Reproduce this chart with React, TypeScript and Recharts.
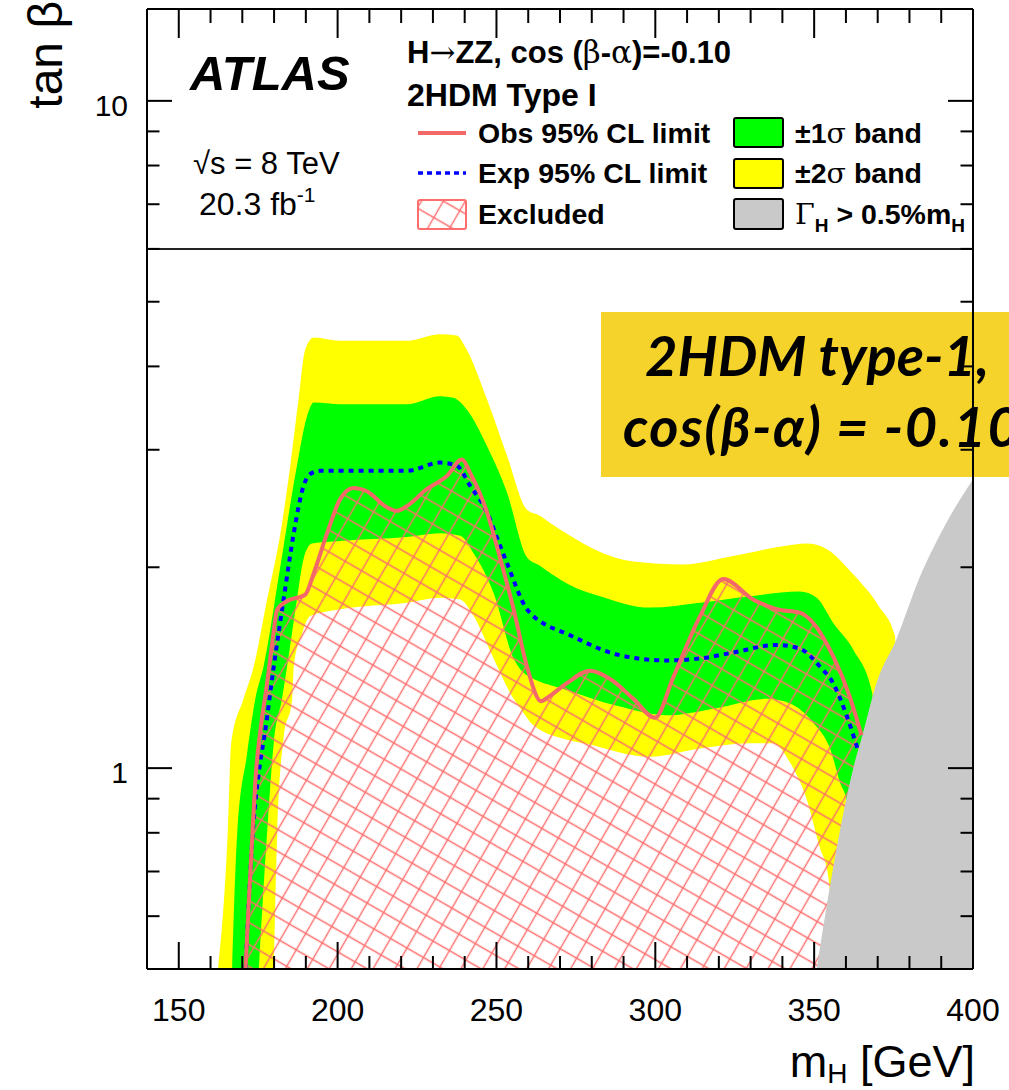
import { ComposedChart, Area, Line, XAxis, YAxis, ReferenceLine } from "recharts";

// [mH (GeV), tan beta] pairs along each contour
const obsLimit: [number, number][] = [
  [171.0, 0.5], [172.2, 0.65], [173.2, 0.8], [174.2, 0.97], [175.8, 1.15], [177.8, 1.34],
  [179.5, 1.55], [181.0, 1.73], [184.1, 1.78], [189.8, 1.82], [192.5, 1.96], [196.7, 2.25],
  [200.8, 2.53], [205.0, 2.63], [209.2, 2.6], [215.5, 2.46], [218.7, 2.43], [221.8, 2.47],
  [228.1, 2.62], [234.4, 2.74], [239.1, 2.9], [241.7, 2.77], [247.0, 2.42], [251.2, 2.06],
  [255.4, 1.73], [259.6, 1.42], [264.0, 1.26], [266.5, 1.28], [272.1, 1.34], [279.5, 1.4],
  [285.8, 1.36], [293.1, 1.27], [299.9, 1.19], [305.7, 1.37], [314.1, 1.69], [321.4, 1.92],
  [330.8, 1.79], [338.2, 1.73], [345.5, 1.71], [349.7, 1.65], [356.0, 1.47], [361.2, 1.28],
  [364.9, 1.12],
];

const expLimit: [number, number][] = [
  [171.0, 0.5], [173.3, 0.8], [175.5, 1.01], [177.0, 1.12], [179.9, 1.42], [183.0, 1.79],
  [186.2, 2.25], [189.3, 2.65], [191.4, 2.76], [194.6, 2.79], [210.0, 2.79], [221.8, 2.79],
  [232.3, 2.87], [237.5, 2.84], [241.7, 2.65], [247.0, 2.42], [251.2, 2.15], [253.3, 2.03],
  [259.6, 1.73], [261.6, 1.69], [263.7, 1.66], [272.1, 1.59], [287.9, 1.48], [303.6, 1.45],
  [314.1, 1.46], [324.5, 1.49], [338.2, 1.53], [345.5, 1.51], [351.8, 1.42], [356.0, 1.34],
  [360.2, 1.2], [363.9, 1.06],
];

const plus1Sigma: [number, number][] = [
  [166.8, 0.5], [168.4, 0.8], [171.5, 1.05], [174.1, 1.27], [176.7, 1.42], [182.0, 2.01],
  [187.2, 2.84], [190.4, 3.37], [192.5, 3.53], [200.8, 3.51], [221.8, 3.51], [232.3, 3.61],
  [236.4, 3.59], [240.6, 3.45], [247.0, 3.04], [253.3, 2.59], [259.6, 2.07], [263.7, 2.01],
  [266.9, 1.96], [273.2, 1.88], [282.6, 1.81], [298.3, 1.74], [314.1, 1.77], [329.8, 1.81],
  [345.5, 1.84], [350.8, 1.8], [356.0, 1.65], [362.5, 1.5], [368.2, 1.3], [372.0, 0.5],
];

const minus1Sigma: [number, number][] = [
  [175.2, 0.5], [177.8, 0.8], [179.9, 1.09], [182.5, 1.27], [184.1, 1.42], [187.2, 1.79],
  [189.3, 2.06], [191.9, 2.17], [200.8, 2.19], [221.8, 2.22], [232.3, 2.25], [238.6, 2.23],
  [242.8, 2.1], [249.1, 1.83], [255.4, 1.46], [258.5, 1.39], [260.6, 1.37], [272.1, 1.31],
  [287.9, 1.24], [303.6, 1.2], [319.3, 1.23], [335.0, 1.27], [342.4, 1.25], [349.7, 1.17],
  [355.0, 1.07], [358.2, 0.95], [360.3, 0.89], [362.0, 0.5],
];

const plus2Sigma: [number, number][] = [
  [162.4, 0.5], [165.4, 0.8], [166.5, 1.09], [170.4, 1.27], [173.6, 1.42], [177.8, 1.79],
  [182.0, 2.25], [185.1, 2.84], [187.7, 3.57], [189.8, 4.24], [192.5, 4.42], [200.8, 4.37],
  [221.8, 4.37], [232.3, 4.47], [237.5, 4.45], [240.6, 4.24], [247.0, 3.57], [253.3, 2.94],
  [259.6, 2.44], [263.7, 2.39], [266.9, 2.33], [273.2, 2.23], [280.6, 2.13], [293.1, 2.04],
  [308.8, 2.02], [324.5, 2.08], [340.2, 2.15], [347.6, 2.17], [353.9, 2.13], [361.9, 1.96],
  [370.3, 1.75], [375.4, 1.58], [377.0, 0.5],
];

const minus2Sigma: [number, number][] = [
  [179.9, 0.5], [181.0, 0.8], [183.0, 1.11], [185.7, 1.27], [186.2, 1.42], [188.8, 1.59],
  [191.4, 1.69], [200.8, 1.73], [221.8, 1.77], [232.3, 1.8], [238.6, 1.79], [242.8, 1.69],
  [249.1, 1.46], [255.4, 1.27], [257.5, 1.23], [261.6, 1.16], [273.2, 1.1], [277.4, 1.09],
  [298.3, 1.04], [314.1, 1.07], [329.8, 1.09], [337.1, 1.09], [342.9, 1.01], [347.6, 0.9],
  [351.8, 0.76], [354.4, 0.69], [356.5, 0.5],
];

// Gamma_H > 0.5% mH boundary
const wideWidth: [number, number][] = [
  [350.8, 0.5], [356.0, 0.71], [362.3, 1.0], [365.4, 1.13], [369.6, 1.34], [375.9, 1.56],
  [383.0, 1.92], [391.6, 2.33], [400.0, 2.71],
];

const massTicks = [150, 160, 170, 180, 190, 200, 210, 220, 230, 240, 250, 260, 270, 280, 290, 300, 310, 320, 330, 340, 350, 360, 370, 380, 390, 400];
const tanbTicks = [0.5, 0.6, 0.7, 0.8, 0.9, 1, 2, 3, 4, 5, 6, 7, 8, 9, 10];
const tanbLabels = [1, 10];

const pts = (pairs: [number, number][]) => pairs.map(([m, v]) => ({ m, v }));

const W = 1009;
const H = 1090;
const PLOT_TOP = 9;
const PLOT_BOTTOM = 969;
const PLOT_LEFT = 147;
const PLOT_RIGHT = 973;
const SANS = "'Liberation Sans', Arial, Helvetica, sans-serif";
const SERIF = "'DejaVu Serif', 'Liberation Serif', serif";
const BOX_FONT = "Lato, 'Open Sans', sans-serif";

const RED = "#f36868";
const HATCH = "#ff6e6e";
const BLUE = "#0000ff";
const GREEN = "#00ff00";
const YELLOW = "#ffff00";
const GREY = "#c9c9c9";

const isMajorMass = (v: number) => v % 50 === 0;

function BottomTick(props: any) {
  const { x, payload } = props;
  const major = isMajorMass(payload.value);
  return (
    <g>
      <line x1={x} x2={x} y1={PLOT_BOTTOM} y2={PLOT_BOTTOM - (major ? 27 : 13)} stroke="#000" strokeWidth={2} />
      {major && (
        <text x={x} y={PLOT_BOTTOM + 52} textAnchor="middle" fontFamily={SANS} fontSize={32} fill="#000">
          {payload.value}
        </text>
      )}
    </g>
  );
}

function TopTick(props: any) {
  const { x, payload } = props;
  const major = isMajorMass(payload.value);
  return <line x1={x} x2={x} y1={PLOT_TOP} y2={PLOT_TOP + (major ? 29 : 14)} stroke="#000" strokeWidth={2} />;
}

function LeftTick(props: any) {
  const { y, payload } = props;
  const major = tanbLabels.includes(payload.value);
  return (
    <g>
      <line x1={PLOT_LEFT} x2={PLOT_LEFT + (major ? 25 : 12.5)} y1={y} y2={y} stroke="#000" strokeWidth={2} />
      {major && (
        <text x={128} y={y + 15} textAnchor="end" fontFamily={SANS} fontSize={30} fill="#000">
          {payload.value}
        </text>
      )}
    </g>
  );
}

function RightTick(props: any) {
  const { y, payload } = props;
  const major = tanbLabels.includes(payload.value);
  return <line x1={PLOT_RIGHT} x2={PLOT_RIGHT - (major ? 25 : 12.5)} y1={y} y2={y} stroke="#000" strokeWidth={2} />;
}

function LegendBlock() {
  const entry = { fontFamily: SANS, fontSize: 28.5, fontWeight: 700, fill: "#000" } as const;
  const greek = { fontFamily: SERIF, fontWeight: 400 } as const;
  return (
    <g>
      <text x={190} y={90} fontFamily={SANS} fontSize={49} fontWeight={700} fontStyle="italic">ATLAS</text>
      <text x={193} y={174} fontFamily={SANS} fontSize={31}>√s = 8 TeV</text>
      <text x={199} y={215} fontFamily={SANS} fontSize={32}>
        20.3 fb<tspan fontSize={21} dy={-13}>-1</tspan>
      </text>

      <text x={407} y={63} fontFamily={SANS} fontSize={31} fontWeight={700}>
        H<tspan {...greek}>→</tspan>ZZ, cos (<tspan {...greek}>β</tspan>-<tspan {...greek}>α</tspan>)=-0.10
      </text>
      <text x={407} y={106} fontFamily={SANS} fontSize={32} fontWeight={700}>2HDM Type I</text>

      <line x1={418} x2={466} y1={133} y2={133} stroke={RED} strokeWidth={4} />
      <text x={478} y={143} {...entry}>Obs 95% CL limit</text>
      <line x1={418} x2={466} y1={173} y2={173} stroke={BLUE} strokeWidth={3.5} strokeDasharray="5 4" />
      <text x={478} y={183} {...entry}>Exp 95% CL limit</text>
      <rect x={418} y={200} width={48} height={29} rx={2} fill="url(#excl-hatch)" stroke={HATCH} strokeWidth={2} />
      <text x={478} y={224} {...entry}>Excluded</text>

      <rect x={734} y={118} width={49} height={29} rx={2} fill={GREEN} stroke="#000" strokeWidth={2} />
      <text x={795} y={143} {...entry}>
        ±1<tspan {...greek}>σ</tspan> band
      </text>
      <rect x={734} y={159} width={49} height={29} rx={2} fill={YELLOW} stroke="#000" strokeWidth={2} />
      <text x={795} y={183} {...entry}>
        ±2<tspan {...greek}>σ</tspan> band
      </text>
      <rect x={734} y={199} width={49} height={30} rx={2} fill={GREY} stroke="#000" strokeWidth={2} />
      <text x={795} y={224} {...entry}>
        <tspan {...greek}>Γ</tspan>
        <tspan fontSize={19} dy={8}>H</tspan>
        <tspan dy={-8}> &gt; 0.5%m</tspan>
        <tspan fontSize={19} dy={8}>H</tspan>
      </text>

      <text transform="translate(62,1) rotate(-90)" textAnchor="end" fontFamily={SANS} fontSize={48}>tan β</text>
      <text x={975} y={1077} textAnchor="end" fontFamily={SANS} fontSize={45}>
        m<tspan fontSize={28} dy={6}>H</tspan>
        <tspan dy={-6}> [GeV]</tspan>
      </text>

      <rect x={601} y={312} width={420} height={165} fill="#f5d32a" />
      <text x={645} y={376} fontFamily={BOX_FONT} fontSize={56} fontWeight={700} fontStyle="italic">
        2HDM type-1,
      </text>
      <text x={623} y={447} fontFamily={BOX_FONT} fontSize={56} fontWeight={700} fontStyle="italic" letterSpacing={1.5}>
        cos(β-α) = -0.10
      </text>
    </g>
  );
}

export default function App() {
  const common = { xAxisId: "b", yAxisId: "l", dataKey: "v", isAnimationActive: false } as const;
  const band = { ...common, type: "monotone" as const, stroke: "none", fillOpacity: 1, baseValue: 0.5, dot: false, activeDot: false };
  return (
    <div style={{ position: "absolute", left: 0, top: 0, width: W, height: H, overflow: "hidden", background: "#fff" }}>
      <ComposedChart width={W} height={H} margin={{ top: PLOT_TOP - 1, right: W - PLOT_RIGHT - 1, bottom: 0, left: 0 }}>
        <defs>
          <pattern id="excl-hatch" width={19} height={19} patternUnits="userSpaceOnUse" patternTransform="rotate(30)">
            <path d="M0 9.5 H19 M9.5 0 V19" stroke={HATCH} strokeWidth={1.4} />
          </pattern>
        </defs>

        {/* ±2σ / ±1σ bands built up from stacked fills */}
        <Area {...band} data={pts(plus2Sigma)} fill={YELLOW} />
        <Area {...band} data={pts(plus1Sigma)} fill={GREEN} />
        <Area {...band} data={pts(minus1Sigma)} fill={YELLOW} />
        <Area {...band} data={pts(minus2Sigma)} fill="#ffffff" />

        {/* excluded region below the observed limit */}
        <Area {...band} data={pts(obsLimit)} fill="url(#excl-hatch)" />

        <Line {...common} data={pts(expLimit)} type="monotone" stroke={BLUE} strokeWidth={4} strokeDasharray="5 5" dot={false} activeDot={false} />
        <Line {...common} data={pts(obsLimit)} type="monotone" stroke={RED} strokeWidth={4} dot={false} activeDot={false} />

        <Area {...band} data={pts(wideWidth)} fill={GREY} />

        <ReferenceLine xAxisId="b" yAxisId="l" y={6} stroke="#222" strokeWidth={2} />

        <XAxis xAxisId="b" dataKey="m" type="number" domain={[140, 400]} allowDataOverflow ticks={massTicks} interval={0}
          height={H - PLOT_BOTTOM} tickSize={0} tickLine={false} axisLine={{ stroke: "#000", strokeWidth: 2 }}
          tick={(p: any) => <BottomTick {...p} />} />
        <XAxis xAxisId="t" orientation="top" dataKey="m" type="number" domain={[140, 400]} allowDataOverflow ticks={massTicks} interval={0}
          height={1} tickSize={0} tickLine={false} axisLine={{ stroke: "#000", strokeWidth: 2 }}
          tick={(p: any) => <TopTick {...p} />} />
        <YAxis yAxisId="l" scale="log" type="number" domain={[0.5, 13.73]} allowDataOverflow ticks={tanbTicks} interval={0}
          width={PLOT_LEFT} tickSize={0} tickLine={false} axisLine={{ stroke: "#000", strokeWidth: 2 }}
          tick={(p: any) => <LeftTick {...p} />} />
        <YAxis yAxisId="r" orientation="right" scale="log" type="number" domain={[0.5, 13.73]} allowDataOverflow ticks={tanbTicks} interval={0}
          width={1} tickSize={0} tickLine={false} axisLine={{ stroke: "#000", strokeWidth: 2 }}
          tick={(p: any) => <RightTick {...p} />} />

        <LegendBlock />
      </ComposedChart>
    </div>
  );
}
